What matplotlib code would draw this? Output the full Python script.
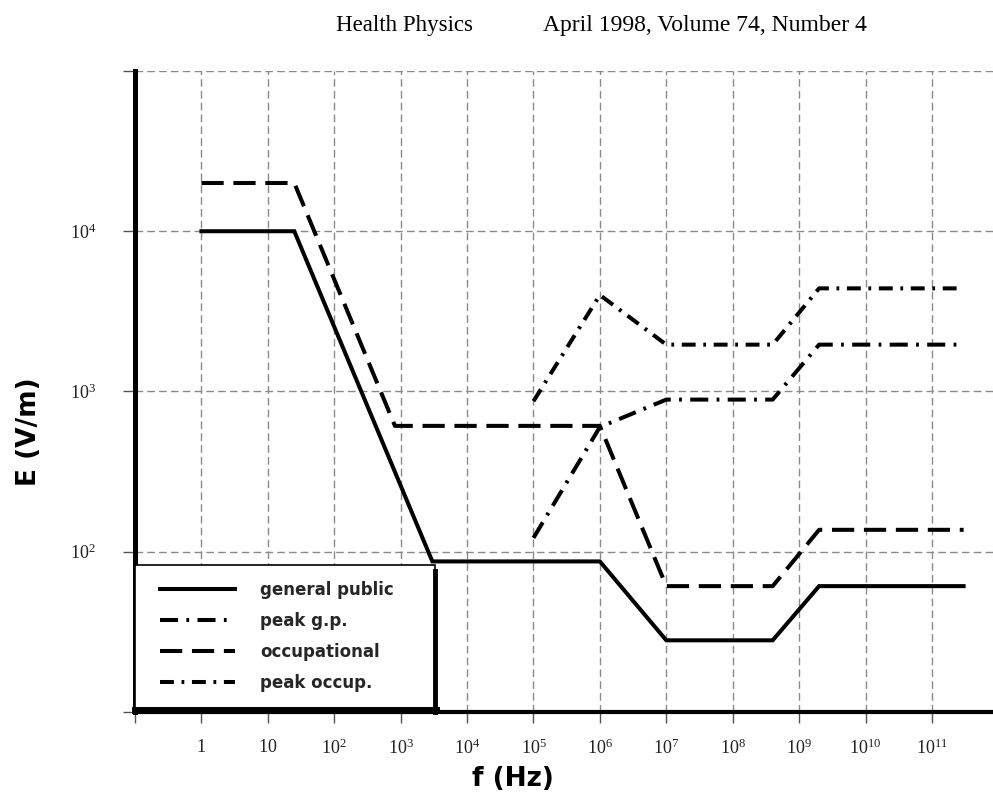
#!/usr/bin/env python
# ICNIRP reference levels for E field vs frequency (log-log)
import matplotlib
matplotlib.use("Agg")
import matplotlib.pyplot as plt
from matplotlib.lines import Line2D
from matplotlib.patches import Rectangle

plt.rcParams['lines.scale_dashes'] = False
plt.rcParams['mathtext.fontset'] = 'custom'
plt.rcParams['mathtext.rm'] = 'Liberation Serif'
plt.rcParams['mathtext.it'] = 'Liberation Serif:italic'
plt.rcParams['mathtext.bf'] = 'Liberation Serif:bold'

# data (f in Hz, E in V/m)
f_gp = [1, 25, 3e3, 1e6, 1e7, 4e8, 2e9, 3e11]
E_gp = [1e4, 1e4, 87, 87, 28, 28, 61, 61]

f_occ = [1, 25, 820, 1e6, 1e7, 4e8, 2e9, 3e11]
E_occ = [2e4, 2e4, 610, 610, 61, 61, 137, 137]

f_peak_gp = [1e5, 1e6, 1e7, 4e8, 2e9, 3e11]
E_peak_gp = [122, 600, 890, 890, 1960, 1960]

f_peak_occ = [1e5, 1e6, 1e7, 4e8, 2e9, 3e11]
E_peak_occ = [870, 4000, 1960, 1960, 4400, 4400]

labels = ['general public', 'peak g.p.', 'occupational', 'peak occup.']
x_exp = list(range(-1, 12))
y_exp = [1, 2, 3, 4, 5]

fig = plt.figure(figsize=(9.93, 7.94), dpi=100)
ax = fig.add_axes([0.136, 0.1033, 0.864, 0.8073])
ax.set_xscale('log')
ax.set_yscale('log')
ax.set_xlim(10**-1, 10**11.92)
ax.set_ylim(10**1, 10**5)

lw = 2.9
l1, = ax.plot(f_gp, E_gp, color='black', lw=lw, solid_joinstyle='miter', zorder=3)
l2, = ax.plot(f_peak_gp, E_peak_gp, color='black', lw=lw, zorder=3,
              linestyle=(0, (13, 6, 2, 6)))
l3, = ax.plot(f_occ, E_occ, color='black', lw=lw, zorder=3,
              linestyle=(0, (16, 7)))
l4, = ax.plot(f_peak_occ, E_peak_occ, color='black', lw=lw, zorder=3,
              linestyle=(0, (10, 5.5, 2, 5.5)))

# grid
ax.grid(True, which='major', color='#8a8a8a', lw=1.0, linestyle=(0, (5.5, 3)))
ax.minorticks_off()

ax.set_xticks([10.0**k for k in x_exp])
xl = []
for k in x_exp:
    if k < 0:
        xl.append('')
    elif k == 0:
        xl.append(r'$\mathrm{1}$')
    elif k == 1:
        xl.append(r'$\mathrm{10}$')
    else:
        xl.append(r'$\mathrm{10^{%d}}$' % k)
ax.set_xticklabels(xl, fontsize=13, color='#222222')

ax.set_yticks([10.0**k for k in y_exp])
yl = [r'$\mathrm{10^{%d}}$' % k if k in (2, 3, 4) else '' for k in y_exp]
ax.set_yticklabels(yl, fontsize=13, color='#222222')

ax.tick_params(axis='x', direction='out', length=8, width=1, color='#555555', pad=11)
ax.tick_params(axis='y', direction='out', length=9, width=1, color='#555555', pad=19)

ax.spines['top'].set_visible(False)
ax.spines['right'].set_visible(False)
ax.spines['left'].set_linewidth(3.6)
ax.spines['bottom'].set_linewidth(3.0)

ax.set_xlabel('f (Hz)', fontsize=19, fontweight='bold', family='DejaVu Sans')
ax.xaxis.set_label_coords(0.4406, -0.084)
ax.set_ylabel('E (V/m)', fontsize=19, fontweight='bold', family='DejaVu Sans')
ax.yaxis.set_label_coords(-0.108, 0.437)

# legend box (white, thin top, heavy right and bottom)
bw, bh = 300 / 858, 147 / 641
ax.add_patch(Rectangle((0, 0), bw, bh, transform=ax.transAxes, facecolor='white',
                       edgecolor='black', lw=1.2, zorder=4, clip_on=False))
ax.add_line(Line2D([bw, bw], [0, bh - 6 / 641], transform=ax.transAxes,
                   color='black', lw=3.5, zorder=6, clip_on=False))
ax.add_line(Line2D([0, bw + 1 / 858], [1.5 / 641, 1.5 / 641], transform=ax.transAxes,
                   color='black', lw=5, zorder=6, clip_on=False))

leg = ax.legend([l1, l2, l3, l4], labels, loc='upper left',
                bbox_to_anchor=(25 / 858, 131 / 641), frameon=False,
                borderaxespad=0, borderpad=0, labelspacing=0.78,
                handlelength=4.5, handletextpad=1.5,
                prop={'family': 'DejaVu Sans', 'weight': 'bold', 'size': 12})
leg.set_zorder(5)
for t in leg.get_texts():
    t.set_color('#262626')

# header
fig.text(336 / 993, 1 - 25 / 794, 'Health Physics', family='Liberation Serif',
         fontsize=16.5, va='center', ha='left')
fig.text(543 / 993, 1 - 25 / 794, 'April 1998, Volume 74, Number 4',
         family='Liberation Serif', fontsize=17, va='center', ha='left')

fig.savefig('out.png', dpi=100)
